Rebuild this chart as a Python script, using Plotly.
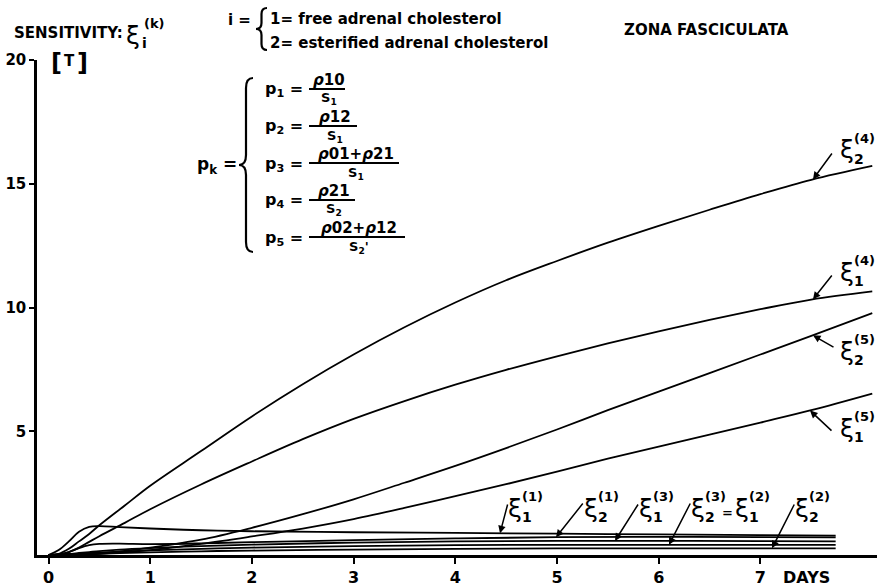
import numpy as np
import plotly.graph_objects as go

# ---------------- data ----------------
x_big = [0, 0.1, 0.2, 0.3, 0.4, 0.5, 0.75, 1.0, 1.5, 2.0, 2.5, 3.0, 3.5, 4.0, 4.5, 5.0, 5.5, 6.0, 6.5, 7.0, 7.5, 8.1]
y_xi2_4 = [0, 0.05, 0.25, 0.55, 0.85, 1.2, 2.0, 2.8, 4.2, 5.6, 6.9, 8.1, 9.2, 10.2, 11.1, 11.88, 12.62, 13.3, 13.95, 14.58, 15.16, 15.72]
y_xi1_4 = [0, 0.02, 0.12, 0.3, 0.53, 0.76, 1.3, 1.85, 2.85, 3.78, 4.68, 5.5, 6.22, 6.88, 7.48, 8.03, 8.55, 9.04, 9.5, 9.93, 10.32, 10.65]
y_xi2_5 = [0, 0.0, 0.01, 0.02, 0.04, 0.07, 0.17, 0.3, 0.62, 1.1, 1.65, 2.25, 2.92, 3.6, 4.32, 5.07, 5.85, 6.6, 7.35, 8.1, 8.85, 9.77]
y_xi1_5 = [0, 0.0, 0.01, 0.02, 0.03, 0.05, 0.12, 0.2, 0.45, 0.75, 1.07, 1.45, 1.9, 2.38, 2.86, 3.37, 3.89, 4.38, 4.86, 5.35, 5.85, 6.52]

x_small = [0, 0.1, 0.2, 0.3, 0.4, 0.5, 0.7, 1.0, 1.5, 2, 3, 4, 5, 6, 7, 7.74]
y_xi1_1 = [0, 0.2, 0.55, 0.94, 1.14, 1.17, 1.13, 1.07, 1.0, 0.96, 0.92, 0.89, 0.86, 0.83, 0.8, 0.78]
y_xi2_1 = [0, 0.03, 0.12, 0.28, 0.4, 0.45, 0.46, 0.44, 0.47, 0.52, 0.6, 0.67, 0.72, 0.73, 0.72, 0.71]
y_xi1_3 = [0, 0.01, 0.04, 0.08, 0.12, 0.16, 0.22, 0.28, 0.36, 0.42, 0.5, 0.55, 0.57, 0.57, 0.56, 0.55]
y_xi2_3 = [0, 0.01, 0.03, 0.05, 0.08, 0.1, 0.14, 0.19, 0.25, 0.3, 0.36, 0.4, 0.41, 0.41, 0.41, 0.41]
y_xi2_2 = [0, 0, 0.01, 0.03, 0.04, 0.05, 0.08, 0.11, 0.15, 0.18, 0.22, 0.25, 0.27, 0.27, 0.27, 0.27]

x_ticks = [0, 1, 2, 3, 4, 5, 6, 7]
y_ticks = [5, 10, 15, 20]

# ---------------- geometry helpers (pixel layout) ----------------
W, H = 877, 587
ML, MR, MT, MB = 37, 0, 60, 32
PW, PH = W - ML - MR, H - MT - MB
PXDAY = 101.7
X0 = -(48.5 - ML) / PXDAY
X1 = X0 + PW / PXDAY
Y0, Y1 = 0, 20


def px(xp, yp):
    """pixel -> paper coordinates"""
    return (xp - ML) / PW, (H - MB - yp) / PH


def px2d(xp, yp):
    return X0 + (xp - ML) / PW * (X1 - X0), Y0 + (H - MB - yp) / PH * (Y1 - Y0)


fig = go.Figure()
LW = 1.8
series = [
    (x_big, y_xi2_4), (x_big, y_xi1_4), (x_big, y_xi2_5), (x_big, y_xi1_5),
    (x_small, y_xi1_1), (x_small, y_xi2_1), (x_small, y_xi1_3), (x_small, y_xi2_3), (x_small, y_xi2_2),
]
for xs, ys in series:
    fig.add_trace(go.Scatter(x=xs, y=ys, mode="lines",
                             line=dict(color="black", width=LW, shape="spline", smoothing=1.0),
                             showlegend=False, hoverinfo="skip"))

ann = []
shapes = []
FONT = "DejaVu Sans"


def text(xp, yp, t, size=15, xanchor="center", family=FONT):
    x, y = px(xp, yp)
    ann.append(dict(x=x, y=y, xref="paper", yref="paper", text=t, showarrow=False,
                    xanchor=xanchor, yanchor="middle", font=dict(size=size, color="black", family=family)))


def xi_label(cx, cy, sub, sup, sdx=17, sdy=-12, bdx=12, bdy=9):
    text(cx, cy, "ξ", size=25)
    text(cx + sdx, cy + sdy, "<b>(%s)</b>" % sup, size=13)
    text(cx + bdx, cy + bdy, "<b>%s</b>" % sub, size=14)


def arrow(tip_xp, xs, ys, tail_px):
    tip_xd = px2d(tip_xp, 0)[0]
    tip_yd = float(np.interp(tip_xd, xs, ys))
    tx, ty = px2d(*tail_px)
    ann.append(dict(x=tip_xd, y=tip_yd, xref="x", yref="y", ax=tx, ay=ty, axref="x", ayref="y",
                    text="", showarrow=True, arrowhead=2, arrowsize=1, arrowwidth=1.5, arrowcolor="black"))


def brace(xl, xr, yt, yb, ym, r):
    xm = (xl + xr) / 2

    def P(a, b):
        u, v = px(a, b)
        return "%.5f,%.5f" % (u, v)
    path = ("M " + P(xr, yt) + " Q " + P(xm, yt) + " " + P(xm, yt + r) +
            " L " + P(xm, ym - r) + " Q " + P(xm, ym) + " " + P(xl, ym) +
            " Q " + P(xm, ym) + " " + P(xm, ym + r) +
            " L " + P(xm, yb - r) + " Q " + P(xm, yb) + " " + P(xr, yb))
    shapes.append(dict(type="path", xref="paper", yref="paper", path=path,
                       line=dict(color="black", width=2.2)))


def hbar(x1, x2, y):
    a, b = px(x1, y)
    c, _ = px(x2, y)
    shapes.append(dict(type="line", xref="paper", yref="paper", x0=a, x1=c, y0=b, y1=b,
                       line=dict(color="black", width=2)))


# ---- header texts ----
text(12, 33, "<b>SENSITIVITY:</b>", size=15, xanchor="left")
xi_label(133, 36, "i", "k", sdx=21, sdy=-12, bdx=11, bdy=7)
text(56, 63, "<b>[</b>", size=24)
text(69, 61, "<b>T</b>", size=15)
text(82, 63, "<b>]</b>", size=24)
text(253, 20, "<b>i =</b>", size=15, xanchor="right")
brace(256, 267, 8, 50, 29, 6)
text(268, 19, "<b>1= free adrenal cholesterol</b>", size=15, xanchor="left")
text(268, 43, "<b>2= esterified adrenal cholesterol</b>", size=15, xanchor="left")
text(622, 30, "<b>ZONA FASCICULATA</b>", size=15, xanchor="left")

# ---- p_k definitions ----
text(239, 165, "<b>p<sub>k</sub> =</b>", size=17, xanchor="right")
brace(239, 253, 78, 252, 165, 10)
rows = [
    (89, "1", "<i>ρ</i>10", "S<sub>1</sub>", 36),
    (126, "2", "<i>ρ</i>12", "S<sub>1</sub>", 48),
    (163, "3", "<i>ρ</i>01+<i>ρ</i>21", "S<sub>1</sub>", 90),
    (200, "4", "<i>ρ</i>21", "S<sub>2</sub>", 46),
    (237, "5", "<i>ρ</i>02+<i>ρ</i>12", "S<sub>2</sub>'", 96),
]
for y, k, num, den, wbar in rows:
    text(263, y + 1, "<b>p<sub>%s</sub> =</b>" % k, size=16, xanchor="left")
    xb = 309
    hbar(xb, xb + wbar, y)
    text(xb + wbar / 2 + 2, y - 9, "<b>%s</b>" % num, size=15)
    text(xb + wbar / 2 + 2, y + 10, "<b>%s</b>" % den, size=13)

# ---- curve labels ----
xi_label(847, 150, "2", "4")
arrow(813, x_big, y_xi2_4, (833, 152))
xi_label(847, 272, "1", "4")
arrow(813, x_big, y_xi1_4, (833, 274))
xi_label(847, 351, "2", "5")
arrow(813, x_big, y_xi2_5, (835, 348))
xi_label(847, 428, "1", "5")
arrow(810, x_big, y_xi1_5, (833, 432))

xi_label(515, 508, "1", "1")
arrow(500, x_small, y_xi1_1, (508, 503))
xi_label(591, 508, "2", "1")
arrow(556, x_small, y_xi2_1, (584, 502))
xi_label(646, 508, "1", "3")
arrow(615, x_small, y_xi1_3, (639, 503))
xi_label(698, 508, "2", "3")
text(727, 512, "<b>=</b>", size=13)
xi_label(742, 508, "1", "2")
arrow(669, x_small, y_xi2_3, (691, 502))
xi_label(802, 508, "2", "2")
arrow(772, x_small, y_xi2_2, (795, 503))

text(806, 577, "<b>DAYS</b>", size=16)

fig.update_layout(
    width=W, height=H, margin=dict(l=ML, r=MR, t=MT, b=MB),
    paper_bgcolor="white", plot_bgcolor="white",
    font=dict(family=FONT, color="black", size=15),
    annotations=ann, shapes=shapes,
    xaxis=dict(range=[X0, X1], tickvals=x_ticks, ticktext=["<b>%d</b>" % v for v in x_ticks],
               showgrid=False, zeroline=False, showline=True, linecolor="black", linewidth=2.5,
               ticks="outside", ticklen=6, tickwidth=2, tickcolor="black",
               tickfont=dict(size=16, family=FONT)),
    yaxis=dict(range=[Y0, Y1], tickvals=y_ticks, ticktext=["<b>%d</b>" % v for v in y_ticks],
               showgrid=False, zeroline=False, showline=True, linecolor="black", linewidth=2.5,
               ticks="outside", ticklen=5, tickwidth=2, tickcolor="black",
               tickfont=dict(size=15, family=FONT)),
)
fig.write_html("out.html", config={"displayModeBar": False},
               post_script="document.body.style.margin='0px';document.body.style.overflow='hidden';")
